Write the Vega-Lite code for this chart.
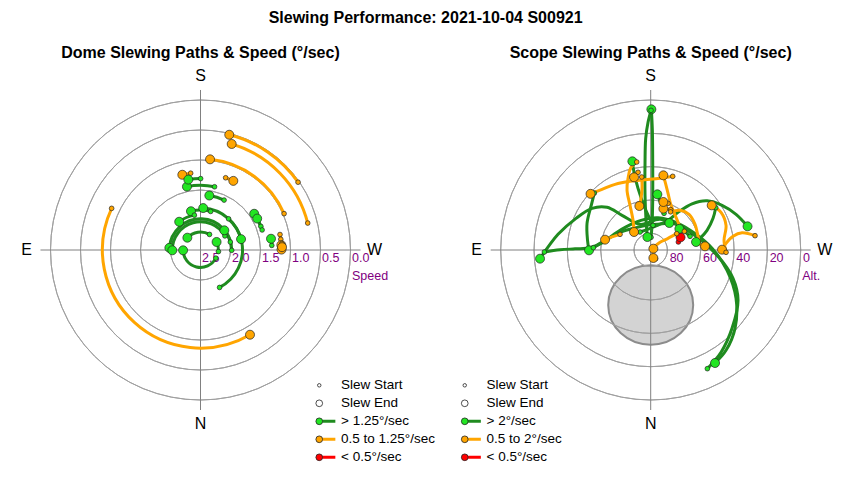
{
  "$schema": "https://vega.github.io/schema/vega-lite/v6.json",
  "background": "white",
  "padding": {"left": 5.5, "top": 10, "right": 0, "bottom": 0},
  "title": {"text": "Slewing Performance: 2021-10-04 S00921", "fontSize": 16, "fontWeight": "bold", "font": "Liberation Sans", "anchor": "middle", "offset": 19, "color": "black"},
  "bounds": "flush",
  "spacing": 60.2,
  "resolve": {
    "scale": {"x": "independent", "y": "independent", "theta": "independent", "radius": "independent", "fill": "independent", "stroke": "independent", "size": "independent"},
    "legend": {"fill": "independent", "stroke": "independent", "size": "independent"}
  },
  "datasets": {
    "domeArcs": [
      {"a0": 235.2, "a1": 194.0, "r": 1.98, "c": "0.5 to 1.25°/sec"},
      {"a0": 255.9, "a1": 196.4, "r": 1.842, "c": "0.5 to 1.25°/sec"},
      {"a0": 246.5, "a1": 186.0, "r": 1.519, "c": "0.5 to 1.25°/sec"},
      {"a0": 115.1, "a1": -30.3, "r": 1.635, "c": "0.5 to 1.25°/sec"},
      {"a0": 259.0, "a1": 269.7, "r": 1.35, "c": "0.5 to 1.25°/sec"},
      {"a0": 262.4, "a1": 266.5, "r": 1.35, "c": "0.5 to 1.25°/sec"},
      {"a0": 265.5, "a1": 268.0, "r": 1.36, "c": "0.5 to 1.25°/sec"},
      {"a0": 172.7, "a1": 166.4, "r": 1.29, "c": "0.5 to 1.25°/sec"},
      {"a0": 199.2, "a1": 205.4, "r": 1.275, "c": "0.5 to 1.25°/sec"},
      {"a0": 192.5, "a1": 167.9, "r": 1.08, "c": "> 1.25°/sec"},
      {"a0": 180.1, "a1": 170.2, "r": 1.19, "c": "> 1.25°/sec"},
      {"a0": 205.3, "a1": 189.2, "r": 0.92, "c": "> 1.25°/sec"},
      {"a0": 333.0, "a1": 183.7, "r": 0.70, "c": "> 1.25°/sec"},
      {"a0": 194.7, "a1": 166.2, "r": 0.665, "c": "> 1.25°/sec"},
      {"a0": 170.0, "a1": 143.0, "r": 0.59, "c": "> 1.25°/sec"},
      {"a0": 270.5, "a1": 94.0, "r": 0.52, "c": "> 1.25°/sec"},
      {"a0": 240.0, "a1": 89.4, "r": 0.47, "c": "> 1.25°/sec"},
      {"a0": 255.0, "a1": 230.4, "r": 0.515, "c": "> 1.25°/sec"},
      {"a0": 222.0, "a1": 255.0, "r": 0.70, "c": "> 1.25°/sec"},
      {"a0": 298.0, "a1": 449.0, "r": 0.29, "c": "> 1.25°/sec"},
      {"a0": 210.0, "a1": 133.0, "r": 0.30, "c": "> 1.25°/sec"},
      {"a0": 275.0, "a1": 243.5, "r": 0.30, "c": "> 1.25°/sec"},
      {"a0": 248.6, "a1": 236.0, "r": 1.08, "c": "> 1.25°/sec"},
      {"a0": 252.0, "a1": 241.0, "r": 1.08, "c": "> 1.25°/sec"},
      {"a0": 266.3, "a1": 260.9, "r": 1.19, "c": "> 1.25°/sec"}
    ],
    "domePts": [
      {"x": 1.626, "y": 1.130, "k": "Slew Start", "c": "0.5 to 1.25°/sec"},
      {"x": 0.479, "y": 1.921, "k": "Slew End", "c": "0.5 to 1.25°/sec"},
      {"x": 1.787, "y": 0.449, "k": "Slew Start", "c": "0.5 to 1.25°/sec"},
      {"x": 0.520, "y": 1.767, "k": "Slew End", "c": "0.5 to 1.25°/sec"},
      {"x": 1.393, "y": 0.606, "k": "Slew Start", "c": "0.5 to 1.25°/sec"},
      {"x": 0.159, "y": 1.511, "k": "Slew End", "c": "0.5 to 1.25°/sec"},
      {"x": -1.481, "y": 0.694, "k": "Slew Start", "c": "0.5 to 1.25°/sec"},
      {"x": 0.825, "y": -1.412, "k": "Slew End", "c": "0.5 to 1.25°/sec"},
      {"x": 1.325, "y": 0.258, "k": "Slew Start", "c": "0.5 to 1.25°/sec"},
      {"x": 1.350, "y": 0.007, "k": "Slew End", "c": "0.5 to 1.25°/sec"},
      {"x": 1.338, "y": 0.179, "k": "Slew Start", "c": "0.5 to 1.25°/sec"},
      {"x": 1.347, "y": 0.082, "k": "Slew End", "c": "0.5 to 1.25°/sec"},
      {"x": 1.356, "y": 0.107, "k": "Slew Start", "c": "0.5 to 1.25°/sec"},
      {"x": 1.359, "y": 0.047, "k": "Slew End", "c": "0.5 to 1.25°/sec"},
      {"x": -0.164, "y": 1.280, "k": "Slew Start", "c": "0.5 to 1.25°/sec"},
      {"x": -0.303, "y": 1.254, "k": "Slew End", "c": "0.5 to 1.25°/sec"},
      {"x": 0.419, "y": 1.204, "k": "Slew Start", "c": "0.5 to 1.25°/sec"},
      {"x": 0.547, "y": 1.152, "k": "Slew End", "c": "0.5 to 1.25°/sec"},
      {"x": 0.234, "y": 1.054, "k": "Slew Start", "c": "> 1.25°/sec"},
      {"x": -0.226, "y": 1.056, "k": "Slew End", "c": "> 1.25°/sec"},
      {"x": 0.002, "y": 1.190, "k": "Slew Start", "c": "> 1.25°/sec"},
      {"x": -0.203, "y": 1.173, "k": "Slew End", "c": "> 1.25°/sec"},
      {"x": 0.393, "y": 0.832, "k": "Slew Start", "c": "> 1.25°/sec"},
      {"x": 0.147, "y": 0.908, "k": "Slew End", "c": "> 1.25°/sec"},
      {"x": 0.318, "y": -0.624, "k": "Slew Start", "c": "> 1.25°/sec"},
      {"x": 0.045, "y": 0.699, "k": "Slew End", "c": "> 1.25°/sec"},
      {"x": 0.169, "y": 0.643, "k": "Slew Start", "c": "> 1.25°/sec"},
      {"x": -0.159, "y": 0.646, "k": "Slew End", "c": "> 1.25°/sec"},
      {"x": -0.102, "y": 0.581, "k": "Slew Start", "c": "> 1.25°/sec"},
      {"x": -0.355, "y": 0.471, "k": "Slew End", "c": "> 1.25°/sec"},
      {"x": 0.520, "y": -0.005, "k": "Slew Start", "c": "> 1.25°/sec"},
      {"x": -0.519, "y": 0.036, "k": "Slew End", "c": "> 1.25°/sec"},
      {"x": 0.407, "y": 0.235, "k": "Slew Start", "c": "> 1.25°/sec"},
      {"x": -0.470, "y": -0.005, "k": "Slew End", "c": "> 1.25°/sec"},
      {"x": 0.497, "y": 0.133, "k": "Slew Start", "c": "> 1.25°/sec"},
      {"x": 0.397, "y": 0.328, "k": "Slew End", "c": "> 1.25°/sec"},
      {"x": 0.468, "y": 0.520, "k": "Slew Start", "c": "> 1.25°/sec"},
      {"x": 0.676, "y": 0.181, "k": "Slew End", "c": "> 1.25°/sec"},
      {"x": 0.256, "y": -0.136, "k": "Slew Start", "c": "> 1.25°/sec"},
      {"x": -0.290, "y": -0.005, "k": "Slew End", "c": "> 1.25°/sec"},
      {"x": 0.150, "y": 0.260, "k": "Slew Start", "c": "> 1.25°/sec"},
      {"x": -0.219, "y": 0.205, "k": "Slew End", "c": "> 1.25°/sec"},
      {"x": 0.299, "y": -0.026, "k": "Slew Start", "c": "> 1.25°/sec"},
      {"x": 0.268, "y": 0.134, "k": "Slew End", "c": "> 1.25°/sec"},
      {"x": 1.006, "y": 0.394, "k": "Slew Start", "c": "> 1.25°/sec"},
      {"x": 0.895, "y": 0.604, "k": "Slew End", "c": "> 1.25°/sec"},
      {"x": 1.027, "y": 0.334, "k": "Slew Start", "c": "> 1.25°/sec"},
      {"x": 0.945, "y": 0.524, "k": "Slew End", "c": "> 1.25°/sec"},
      {"x": 1.188, "y": 0.077, "k": "Slew Start", "c": "> 1.25°/sec"},
      {"x": 1.175, "y": 0.188, "k": "Slew End", "c": "> 1.25°/sec"}
    ],
    "scope": [
      {"p": "R1", "o": 1, "x": 16.6, "y": 4.8, "c": "< 0.5°/sec", "k": "Slew Start"},
      {"p": "R1", "o": 2, "x": 17.9, "y": 7.6, "c": "< 0.5°/sec", "k": "Slew End"},
      {"p": "S1", "o": 1, "x": -63.8, "y": -1.2, "c": "> 2°/sec", "k": "Slew Start"},
      {"p": "S1", "o": 2, "x": -54.4, "y": 0.1, "c": "> 2°/sec"},
      {"p": "S1", "o": 3, "x": -45.4, "y": 0.7, "c": "> 2°/sec"},
      {"p": "S1", "o": 4, "x": -36.4, "y": 1.3, "c": "> 2°/sec"},
      {"p": "S1", "o": 5, "x": -28.6, "y": 4.6, "c": "> 2°/sec"},
      {"p": "S1", "o": 6, "x": -22.0, "y": 9.4, "c": "> 2°/sec"},
      {"p": "S1", "o": 7, "x": -14.8, "y": 13.9, "c": "> 2°/sec"},
      {"p": "S1", "o": 8, "x": -5.8, "y": 17.8, "c": "> 2°/sec"},
      {"p": "S1", "o": 9, "x": 4.4, "y": 19.3, "c": "> 2°/sec"},
      {"p": "S1", "o": 10, "x": 16.4, "y": 16.0, "c": "> 2°/sec"},
      {"p": "S1", "o": 11, "x": 27.2, "y": 9.4, "c": "> 2°/sec"},
      {"p": "S1", "o": 12, "x": 36.8, "y": 1.0, "c": "> 2°/sec"},
      {"p": "S1", "o": 13, "x": 45.8, "y": -12.2, "c": "> 2°/sec"},
      {"p": "S1", "o": 14, "x": 51.2, "y": -29.0, "c": "> 2°/sec"},
      {"p": "S1", "o": 15, "x": 50.6, "y": -47.0, "c": "> 2°/sec"},
      {"p": "S1", "o": 16, "x": 45.2, "y": -60.2, "c": "> 2°/sec"},
      {"p": "S1", "o": 17, "x": 38.6, "y": -67.8, "c": "> 2°/sec", "k": "Slew End"},
      {"p": "S2", "o": 1, "x": 34.0, "y": -71.2, "c": "> 2°/sec", "k": "Slew Start"},
      {"p": "S2", "o": 2, "x": 42.2, "y": -61.4, "c": "> 2°/sec"},
      {"p": "S2", "o": 3, "x": 48.8, "y": -47.0, "c": "> 2°/sec"},
      {"p": "S2", "o": 4, "x": 52.4, "y": -30.2, "c": "> 2°/sec"},
      {"p": "S2", "o": 5, "x": 49.4, "y": -17.0, "c": "> 2°/sec"},
      {"p": "S2", "o": 6, "x": 40.4, "y": -3.8, "c": "> 2°/sec"},
      {"p": "S2", "o": 7, "x": 29.6, "y": 6.4, "c": "> 2°/sec"},
      {"p": "S2", "o": 8, "x": 17.6, "y": 14.2, "c": "> 2°/sec"},
      {"p": "S2", "o": 9, "x": 5.6, "y": 18.4, "c": "> 2°/sec"},
      {"p": "S2", "o": 10, "x": -6.4, "y": 15.4, "c": "> 2°/sec"},
      {"p": "S2", "o": 11, "x": -17.2, "y": 20.8, "c": "> 2°/sec"},
      {"p": "S2", "o": 12, "x": -26.2, "y": 25.6, "c": "> 2°/sec"},
      {"p": "S2", "o": 13, "x": -35.2, "y": 25.0, "c": "> 2°/sec"},
      {"p": "S2", "o": 14, "x": -44.8, "y": 19.0, "c": "> 2°/sec"},
      {"p": "S2", "o": 15, "x": -55.6, "y": 9.4, "c": "> 2°/sec"},
      {"p": "S2", "o": 16, "x": -66.4, "y": -5.2, "c": "> 2°/sec", "k": "Slew End"},
      {"p": "S3", "o": 1, "x": 0.2, "y": 7.6, "c": "> 2°/sec", "k": "Slew Start"},
      {"p": "S3", "o": 2, "x": 0.8, "y": 14.8, "c": "> 2°/sec"},
      {"p": "S3", "o": 3, "x": 1.2, "y": 29.8, "c": "> 2°/sec"},
      {"p": "S3", "o": 4, "x": 1.2, "y": 53.8, "c": "> 2°/sec"},
      {"p": "S3", "o": 5, "x": 1.0, "y": 71.8, "c": "> 2°/sec"},
      {"p": "S3", "o": 6, "x": 0.4, "y": 84.4, "c": "> 2°/sec", "k": "Slew End"},
      {"p": "S4", "o": 1, "x": 0.2, "y": 83.8, "c": "> 2°/sec", "k": "Slew Start"},
      {"p": "S4", "o": 2, "x": -1.6, "y": 76.6, "c": "> 2°/sec"},
      {"p": "S4", "o": 3, "x": -3.0, "y": 67.0, "c": "> 2°/sec"},
      {"p": "S4", "o": 4, "x": -3.4, "y": 52.6, "c": "> 2°/sec"},
      {"p": "S4", "o": 5, "x": -3.4, "y": 32.8, "c": "> 2°/sec"},
      {"p": "S4", "o": 6, "x": -2.8, "y": 17.8, "c": "> 2°/sec"},
      {"p": "S4", "o": 7, "x": -2.0, "y": 7.8, "c": "> 2°/sec", "k": "Slew End"},
      {"p": "S5", "o": 1, "x": -33.8, "y": 34.2, "c": "> 2°/sec", "k": "Slew Start"},
      {"p": "S5", "o": 2, "x": -35.4, "y": 27.8, "c": "> 2°/sec"},
      {"p": "S5", "o": 3, "x": -38.2, "y": 16.0, "c": "> 2°/sec"},
      {"p": "S5", "o": 4, "x": -37.9, "y": 5.8, "c": "> 2°/sec"},
      {"p": "S5", "o": 5, "x": -37.0, "y": -0.2, "c": "> 2°/sec", "k": "Slew End"},
      {"p": "S6", "o": 1, "x": 1.4, "y": 14.8, "c": "> 2°/sec", "k": "Slew Start"},
      {"p": "S6", "o": 2, "x": -3.4, "y": 25.0, "c": "> 2°/sec"},
      {"p": "S6", "o": 3, "x": -7.6, "y": 37.0, "c": "> 2°/sec"},
      {"p": "S6", "o": 4, "x": -10.0, "y": 46.6, "c": "> 2°/sec"},
      {"p": "S6", "o": 5, "x": -11.0, "y": 53.2, "c": "> 2°/sec", "k": "Slew End"},
      {"p": "S7", "o": 1, "x": 39.0, "y": 25.4, "c": "> 2°/sec", "k": "Slew Start"},
      {"p": "S7", "o": 2, "x": 37.4, "y": 19.0, "c": "> 2°/sec"},
      {"p": "S7", "o": 3, "x": 33.8, "y": 11.8, "c": "> 2°/sec"},
      {"p": "S7", "o": 4, "x": 29.6, "y": 7.0, "c": "> 2°/sec"},
      {"p": "S7", "o": 5, "x": 27.2, "y": 4.8, "c": "> 2°/sec", "k": "Slew End"},
      {"p": "S8", "o": 1, "x": -6.4, "y": 10.8, "c": "> 2°/sec", "k": "Slew Start"},
      {"p": "S8", "o": 2, "x": 2.6, "y": 14.2, "c": "> 2°/sec"},
      {"p": "S8", "o": 3, "x": 10.4, "y": 17.8, "c": "> 2°/sec"},
      {"p": "S8", "o": 4, "x": 16.4, "y": 22.6, "c": "> 2°/sec"},
      {"p": "S8", "o": 5, "x": 24.8, "y": 27.7, "c": "> 2°/sec"},
      {"p": "S8", "o": 6, "x": 33.8, "y": 29.5, "c": "> 2°/sec"},
      {"p": "S8", "o": 7, "x": 42.8, "y": 26.8, "c": "> 2°/sec"},
      {"p": "S8", "o": 8, "x": 51.2, "y": 21.4, "c": "> 2°/sec"},
      {"p": "S8", "o": 9, "x": 58.1, "y": 14.2, "c": "> 2°/sec", "k": "Slew End"},
      {"p": "S9", "o": 1, "x": 23.6, "y": 8.2, "c": "> 2°/sec", "k": "Slew Start"},
      {"p": "S9", "o": 2, "x": 20.0, "y": 11.2, "c": "> 2°/sec"},
      {"p": "S9", "o": 3, "x": 17.2, "y": 12.7, "c": "> 2°/sec", "k": "Slew End"},
      {"p": "S10", "o": 1, "x": -34.4, "y": 1.4, "c": "> 2°/sec", "k": "Slew Start"},
      {"p": "S10", "o": 2, "x": -27.4, "y": 5.8, "c": "> 2°/sec"},
      {"p": "S10", "o": 3, "x": -18.4, "y": 10.6, "c": "> 2°/sec"},
      {"p": "S10", "o": 4, "x": -9.4, "y": 13.3, "c": "> 2°/sec"},
      {"p": "S10", "o": 5, "x": -0.4, "y": 15.1, "c": "> 2°/sec"},
      {"p": "S10", "o": 6, "x": 6.8, "y": 15.7, "c": "> 2°/sec"},
      {"p": "S10", "o": 7, "x": 11.2, "y": 16.2, "c": "> 2°/sec", "k": "Slew End"},
      {"p": "S11", "o": 1, "x": 8.0, "y": 22.0, "c": "> 2°/sec", "k": "Slew Start"},
      {"p": "S11", "o": 2, "x": 6.2, "y": 27.4, "c": "> 2°/sec"},
      {"p": "S11", "o": 3, "x": 4.0, "y": 33.4, "c": "> 2°/sec", "k": "Slew End"},
      {"p": "O1", "o": 1, "x": 13.2, "y": 44.2, "c": "0.5 to 2°/sec", "k": "Slew Start"},
      {"p": "O1", "o": 2, "x": 5.6, "y": 43.0, "c": "0.5 to 2°/sec"},
      {"p": "O1", "o": 3, "x": -3.4, "y": 42.1, "c": "0.5 to 2°/sec"},
      {"p": "O1", "o": 4, "x": -12.4, "y": 41.2, "c": "0.5 to 2°/sec"},
      {"p": "O1", "o": 5, "x": -21.4, "y": 39.4, "c": "0.5 to 2°/sec"},
      {"p": "O1", "o": 6, "x": -29.2, "y": 36.4, "c": "0.5 to 2°/sec"},
      {"p": "O1", "o": 7, "x": -36.1, "y": 33.7, "c": "0.5 to 2°/sec", "k": "Slew End"},
      {"p": "O2", "o": 1, "x": -8.4, "y": 52.8, "c": "0.5 to 2°/sec", "k": "Slew Start"},
      {"p": "O2", "o": 2, "x": -11.8, "y": 49.6, "c": "0.5 to 2°/sec"},
      {"p": "O2", "o": 3, "x": -13.6, "y": 43.0, "c": "0.5 to 2°/sec"},
      {"p": "O2", "o": 4, "x": -14.2, "y": 35.8, "c": "0.5 to 2°/sec"},
      {"p": "O2", "o": 5, "x": -12.4, "y": 26.8, "c": "0.5 to 2°/sec"},
      {"p": "O2", "o": 6, "x": -10.6, "y": 17.8, "c": "0.5 to 2°/sec"},
      {"p": "O2", "o": 7, "x": -10.0, "y": 10.8, "c": "0.5 to 2°/sec", "k": "Slew End"},
      {"p": "O3", "o": 1, "x": -5.4, "y": 43.8, "c": "0.5 to 2°/sec", "k": "Slew Start"},
      {"p": "O3", "o": 2, "x": -5.2, "y": 37.0, "c": "0.5 to 2°/sec"},
      {"p": "O3", "o": 3, "x": -5.8, "y": 31.0, "c": "0.5 to 2°/sec"},
      {"p": "O3", "o": 4, "x": -6.8, "y": 26.4, "c": "0.5 to 2°/sec", "k": "Slew End"},
      {"p": "O4", "o": 1, "x": 20.2, "y": 11.2, "c": "0.5 to 2°/sec", "k": "Slew Start"},
      {"p": "O4", "o": 2, "x": 17.6, "y": 14.2, "c": "0.5 to 2°/sec"},
      {"p": "O4", "o": 3, "x": 15.2, "y": 19.6, "c": "0.5 to 2°/sec"},
      {"p": "O4", "o": 4, "x": 12.2, "y": 26.8, "c": "0.5 to 2°/sec"},
      {"p": "O4", "o": 5, "x": 10.4, "y": 34.0, "c": "0.5 to 2°/sec"},
      {"p": "O4", "o": 6, "x": 8.9, "y": 40.0, "c": "0.5 to 2°/sec"},
      {"p": "O4", "o": 7, "x": 7.6, "y": 44.8, "c": "0.5 to 2°/sec", "k": "Slew End"},
      {"p": "O5", "o": 1, "x": 12.0, "y": 24.2, "c": "0.5 to 2°/sec", "k": "Slew Start"},
      {"p": "O5", "o": 2, "x": 9.8, "y": 24.7, "c": "0.5 to 2°/sec"},
      {"p": "O5", "o": 3, "x": 7.6, "y": 24.8, "c": "0.5 to 2°/sec", "k": "Slew End"},
      {"p": "O6", "o": 1, "x": 10.4, "y": 28.0, "c": "0.5 to 2°/sec", "k": "Slew Start"},
      {"p": "O6", "o": 2, "x": 8.6, "y": 28.6, "c": "0.5 to 2°/sec"},
      {"p": "O6", "o": 3, "x": 7.6, "y": 28.8, "c": "0.5 to 2°/sec", "k": "Slew End"},
      {"p": "O7", "o": 1, "x": 11.9, "y": 22.9, "c": "0.5 to 2°/sec", "k": "Slew Start"},
      {"p": "O7", "o": 2, "x": 17.6, "y": 23.8, "c": "0.5 to 2°/sec"},
      {"p": "O7", "o": 3, "x": 23.0, "y": 21.4, "c": "0.5 to 2°/sec"},
      {"p": "O7", "o": 4, "x": 26.6, "y": 15.4, "c": "0.5 to 2°/sec"},
      {"p": "O7", "o": 5, "x": 28.4, "y": 8.2, "c": "0.5 to 2°/sec"},
      {"p": "O7", "o": 6, "x": 29.6, "y": 3.4, "c": "0.5 to 2°/sec"},
      {"p": "O7", "o": 7, "x": 32.6, "y": 2.2, "c": "0.5 to 2°/sec", "k": "Slew End"},
      {"p": "O8", "o": 1, "x": 62.6, "y": 8.6, "c": "0.5 to 2°/sec", "k": "Slew Start"},
      {"p": "O8", "o": 2, "x": 54.8, "y": 10.3, "c": "0.5 to 2°/sec"},
      {"p": "O8", "o": 3, "x": 49.4, "y": 8.2, "c": "0.5 to 2°/sec"},
      {"p": "O8", "o": 4, "x": 45.2, "y": 4.0, "c": "0.5 to 2°/sec"},
      {"p": "O8", "o": 5, "x": 42.8, "y": 0.2, "c": "0.5 to 2°/sec", "k": "Slew End"},
      {"p": "O9", "o": 1, "x": 45.2, "y": -1.4, "c": "0.5 to 2°/sec", "k": "Slew Start"},
      {"p": "O9", "o": 2, "x": 44.0, "y": 5.8, "c": "0.5 to 2°/sec"},
      {"p": "O9", "o": 3, "x": 45.2, "y": 14.8, "c": "0.5 to 2°/sec"},
      {"p": "O9", "o": 4, "x": 42.2, "y": 22.6, "c": "0.5 to 2°/sec"},
      {"p": "O9", "o": 5, "x": 36.6, "y": 26.8, "c": "0.5 to 2°/sec", "k": "Slew End"},
      {"p": "O10", "o": 1, "x": 15.6, "y": 9.8, "c": "0.5 to 2°/sec", "k": "Slew Start"},
      {"p": "O10", "o": 2, "x": 10.4, "y": 7.0, "c": "0.5 to 2°/sec"},
      {"p": "O10", "o": 3, "x": 5.6, "y": 4.6, "c": "0.5 to 2°/sec"},
      {"p": "O10", "o": 4, "x": 2.6, "y": 2.2, "c": "0.5 to 2°/sec"},
      {"p": "O10", "o": 5, "x": 1.6, "y": 0.8, "c": "0.5 to 2°/sec", "k": "Slew End"},
      {"p": "O11", "o": 1, "x": 2.9, "y": -5.3, "c": "0.5 to 2°/sec", "k": "Slew Start"},
      {"p": "O11", "o": 2, "x": 1.6, "y": -4.8, "c": "0.5 to 2°/sec", "k": "Slew End"},
      {"p": "O12", "o": 1, "x": -18.4, "y": 9.4, "c": "0.5 to 2°/sec", "k": "Slew Start"},
      {"p": "O12", "o": 2, "x": -23.2, "y": 7.9, "c": "0.5 to 2°/sec"},
      {"p": "O12", "o": 3, "x": -27.4, "y": 6.2, "c": "0.5 to 2°/sec", "k": "Slew End"},
      {"p": "O13", "o": 1, "x": -7.6, "y": 46.6, "c": "0.5 to 2°/sec", "k": "Slew Start"},
      {"p": "O13", "o": 2, "x": -10.0, "y": 43.6, "c": "0.5 to 2°/sec", "k": "Slew End"}
    ]
  },
  "hconcat": [
    {
      "width": 390,
      "height": 390,
      "title": {"text": "Dome Slewing Paths & Speed (°/sec)", "fontSize": 16, "fontWeight": "bold", "offset": -6, "color": "black"},
      "layer": [
        {
          "data": {"values": [{"r": 0.5}, {"r": 1.0}, {"r": 1.5}, {"r": 2.0}, {"r": 2.5}]},
          "mark": {"type": "arc", "filled": false, "stroke": "#a0a0a0", "strokeWidth": 1},
          "encoding": {
            "theta": {"datum": 0, "type": "quantitative", "stack": null, "scale": {"type": "linear", "domain": [0, 360], "range": [-3.14159265, 3.14159265]}},
            "theta2": {"datum": 360},
            "radius": {"field": "r", "type": "quantitative", "scale": {"type": "linear", "domain": [0, 2.5], "range": [0, 150]}},
            "radius2": {"field": "r"}
          }
        },
        {
          "data": {"values": [{}]},
          "mark": {"type": "rule", "stroke": "#808080", "strokeWidth": 1},
          "encoding": {
            "x": {"datum": -2.667, "type": "quantitative", "scale": {"domain": [-3.25, 3.25]}, "axis": null},
            "x2": {"datum": 2.667},
            "y": {"datum": 0, "type": "quantitative", "scale": {"domain": [-3.25, 3.25]}, "axis": null}
          }
        },
        {
          "data": {"values": [{}]},
          "mark": {"type": "rule", "stroke": "#808080", "strokeWidth": 1},
          "encoding": {
            "y": {"datum": -2.667, "type": "quantitative", "scale": {"domain": [-3.25, 3.25]}, "axis": null},
            "y2": {"datum": 2.667},
            "x": {"datum": 0, "type": "quantitative", "scale": {"domain": [-3.25, 3.25]}, "axis": null}
          }
        },
        {
          "data": {"values": [{"lab": "2.5", "r": 0}, {"lab": "2.0", "r": 0.5}, {"lab": "1.5", "r": 1.0}, {"lab": "1.0", "r": 1.5}, {"lab": "0.5", "r": 2.0}, {"lab": "0.0", "r": 2.5}]},
          "mark": {"type": "text", "align": "left", "baseline": "alphabetic", "dx": 1.5, "dy": 12.3, "fontSize": 12.5, "color": "#800080"},
          "encoding": {
            "x": {"field": "r", "type": "quantitative", "scale": {"domain": [-3.25, 3.25]}, "axis": null},
            "y": {"datum": 0, "type": "quantitative", "scale": {"domain": [-3.25, 3.25]}, "axis": null},
            "text": {"field": "lab"}
          }
        },
        {
          "data": {"values": [{"lab": "Speed", "r": 2.5}]},
          "mark": {"type": "text", "align": "left", "baseline": "alphabetic", "dx": 1.5, "dy": 29.6, "fontSize": 12.5, "color": "#800080"},
          "encoding": {
            "x": {"field": "r", "type": "quantitative", "scale": {"domain": [-3.25, 3.25]}, "axis": null},
            "y": {"datum": 0, "type": "quantitative", "scale": {"domain": [-3.25, 3.25]}, "axis": null},
            "text": {"field": "lab"}
          }
        },
        {
          "data": {"values": [{"t": "S", "az": 180}, {"t": "W", "az": 270}, {"t": "N", "az": 0}, {"t": "E", "az": 90}]},
          "mark": {"type": "text", "fontSize": 16, "align": "center", "baseline": "middle", "color": "black"},
          "encoding": {
            "theta": {"field": "az", "type": "quantitative", "stack": null, "scale": {"type": "linear", "domain": [0, 360], "range": [-3.14159265, 3.14159265]}},
            "radius": {"datum": 2.9, "type": "quantitative", "scale": {"type": "linear", "domain": [0, 2.5], "range": [0, 150]}},
            "text": {"field": "t"}
          }
        },
        {
          "data": {"name": "domeArcs"},
          "mark": {"type": "arc", "filled": false, "strokeWidth": 3, "strokeJoin": "round"},
          "encoding": {
            "theta": {"field": "a0", "type": "quantitative", "stack": null, "scale": {"type": "linear", "domain": [0, 360], "range": [-3.14159265, 3.14159265]}},
            "theta2": {"field": "a1"},
            "radius": {"field": "r", "type": "quantitative", "scale": {"type": "linear", "domain": [0, 2.5], "range": [0, 150]}},
            "radius2": {"field": "r"},
            "stroke": {
              "field": "c", "type": "nominal",
              "scale": {"domain": ["> 1.25°/sec", "0.5 to 1.25°/sec", "< 0.5°/sec"], "range": ["#1f8b1f", "#ffa500", "#ff0000"]},
              "legend": {"orient": "none", "legendX": 307, "legendY": 359.3, "title": null, "symbolType": "M0.9,0H4.8", "symbolSize": 45, "symbolStrokeWidth": 3, "symbolFillColor": "transparent", "labelOpacity": 0, "labelFontSize": 13.5, "labelOffset": 15, "rowPadding": 4, "clipHeight": 14}
            }
          }
        },
        {
          "data": {"name": "domePts"},
          "mark": {"type": "point", "shape": "circle", "filled": true, "opacity": 1, "stroke": "#222222", "strokeWidth": 0.7},
          "encoding": {
            "x": {"field": "x", "type": "quantitative", "scale": {"domain": [-3.25, 3.25]}, "axis": null},
            "y": {"field": "y", "type": "quantitative", "scale": {"domain": [-3.25, 3.25]}, "axis": null},
            "fill": {
              "field": "c", "type": "nominal",
              "scale": {"domain": ["Slew Start", "Slew End", "> 1.25°/sec", "0.5 to 1.25°/sec", "< 0.5°/sec"], "range": ["white", "white", "#22e622", "#ffa500", "#ff0000"]},
              "legend": {"orient": "none", "legendX": 307, "legendY": 323.3, "title": null, "symbolType": "circle", "symbolSize": 45, "symbolStrokeColor": "#222222", "symbolStrokeWidth": 0.8, "symbolOpacity": 1, "labelFontSize": 13.5, "labelColor": "black", "labelOffset": 15, "rowPadding": 4, "clipHeight": 14, "labelLimit": 300,
                "encode": {"symbols": {"update": {"size": {"signal": "datum.value === 'Slew Start' ? 12 : 45"}}}}}
            },
            "size": {"field": "k", "type": "ordinal", "scale": {"domain": ["Slew Start", "Slew End"], "range": [22, 81]}, "legend": null}
          }
        }
      ]
    },
    {
      "width": 390,
      "height": 390,
      "title": {"text": "Scope Slewing Paths & Speed (°/sec)", "fontSize": 16, "fontWeight": "bold", "offset": -6, "color": "black"},
      "layer": [
        {
          "data": {"values": [{"x": 0, "y": -33}]},
          "mark": {"type": "point", "shape": "M-1,0A1,0.933,0,1,1,1,0A1,0.933,0,1,1,-1,0Z", "filled": true, "fill": "#d3d3d3", "stroke": "#8c8c8c", "strokeWidth": 2, "opacity": 1, "size": 7225},
          "encoding": {
            "x": {"field": "x", "type": "quantitative", "scale": {"domain": [-117, 117]}, "axis": null},
            "y": {"field": "y", "type": "quantitative", "scale": {"domain": [-117, 117]}, "axis": null}
          }
        },
        {
          "data": {"values": [{"zd": 10}, {"zd": 30}, {"zd": 50}, {"zd": 70}, {"zd": 90}]},
          "mark": {"type": "arc", "filled": false, "stroke": "#a0a0a0", "strokeWidth": 1},
          "encoding": {
            "theta": {"datum": 0, "type": "quantitative", "stack": null, "scale": {"type": "linear", "domain": [0, 360], "range": [-3.14159265, 3.14159265]}},
            "theta2": {"datum": 360},
            "radius": {"field": "zd", "type": "quantitative", "scale": {"type": "linear", "domain": [0, 90], "range": [0, 150]}},
            "radius2": {"field": "zd"}
          }
        },
        {
          "data": {"values": [{}]},
          "mark": {"type": "rule", "stroke": "#808080", "strokeWidth": 1},
          "encoding": {
            "x": {"datum": -96, "type": "quantitative", "scale": {"domain": [-117, 117]}, "axis": null},
            "x2": {"datum": 96},
            "y": {"datum": 0, "type": "quantitative", "scale": {"domain": [-117, 117]}, "axis": null}
          }
        },
        {
          "data": {"values": [{}]},
          "mark": {"type": "rule", "stroke": "#808080", "strokeWidth": 1},
          "encoding": {
            "y": {"datum": -96, "type": "quantitative", "scale": {"domain": [-117, 117]}, "axis": null},
            "y2": {"datum": 96},
            "x": {"datum": 0, "type": "quantitative", "scale": {"domain": [-117, 117]}, "axis": null}
          }
        },
        {
          "data": {"values": [{"lab": "80", "zd": 10}, {"lab": "60", "zd": 30}, {"lab": "40", "zd": 50}, {"lab": "20", "zd": 70}, {"lab": "0", "zd": 90}]},
          "mark": {"type": "text", "align": "left", "baseline": "alphabetic", "dx": 2.3, "dy": 12.3, "fontSize": 12.5, "color": "#800080"},
          "encoding": {
            "x": {"field": "zd", "type": "quantitative", "scale": {"domain": [-117, 117]}, "axis": null},
            "y": {"datum": 0, "type": "quantitative", "scale": {"domain": [-117, 117]}, "axis": null},
            "text": {"field": "lab"}
          }
        },
        {
          "data": {"values": [{"lab": "Alt.", "zd": 90}]},
          "mark": {"type": "text", "align": "left", "baseline": "alphabetic", "dx": 1.5, "dy": 29.6, "fontSize": 12.5, "color": "#800080"},
          "encoding": {
            "x": {"field": "zd", "type": "quantitative", "scale": {"domain": [-117, 117]}, "axis": null},
            "y": {"datum": 0, "type": "quantitative", "scale": {"domain": [-117, 117]}, "axis": null},
            "text": {"field": "lab"}
          }
        },
        {
          "data": {"values": [{"t": "S", "az": 180}, {"t": "W", "az": 270}, {"t": "N", "az": 0}, {"t": "E", "az": 90}]},
          "mark": {"type": "text", "fontSize": 16, "align": "center", "baseline": "middle", "color": "black"},
          "encoding": {
            "theta": {"field": "az", "type": "quantitative", "stack": null, "scale": {"type": "linear", "domain": [0, 360], "range": [-3.14159265, 3.14159265]}},
            "radius": {"datum": 104.5, "type": "quantitative", "scale": {"type": "linear", "domain": [0, 90], "range": [0, 150]}},
            "text": {"field": "t"}
          }
        },
        {
          "data": {"name": "scope"},
          "mark": {"type": "line", "strokeWidth": 3, "interpolate": "catmull-rom"},
          "encoding": {
            "x": {"field": "x", "type": "quantitative", "scale": {"domain": [-117, 117]}, "axis": null},
            "y": {"field": "y", "type": "quantitative", "scale": {"domain": [-117, 117]}, "axis": null},
            "detail": {"field": "p"},
            "order": {"field": "o", "type": "quantitative"},
            "stroke": {
              "field": "c", "type": "nominal",
              "scale": {"domain": ["> 2°/sec", "0.5 to 2°/sec", "< 0.5°/sec"], "range": ["#1f8b1f", "#ffa500", "#ff0000"]},
              "legend": {"orient": "none", "legendX": 2.3, "legendY": 359.3, "title": null, "symbolType": "M0.9,0H4.8", "symbolSize": 45, "symbolStrokeWidth": 3, "symbolFillColor": "transparent", "labelOpacity": 0, "labelFontSize": 13.5, "labelOffset": 15, "rowPadding": 4, "clipHeight": 14}
            }
          }
        },
        {
          "data": {"name": "scope"},
          "transform": [{"filter": {"field": "k", "oneOf": ["Slew Start", "Slew End"]}}],
          "mark": {"type": "point", "shape": "circle", "filled": true, "opacity": 1, "stroke": "#222222", "strokeWidth": 0.7},
          "encoding": {
            "x": {"field": "x", "type": "quantitative", "scale": {"domain": [-117, 117]}, "axis": null},
            "y": {"field": "y", "type": "quantitative", "scale": {"domain": [-117, 117]}, "axis": null},
            "fill": {
              "field": "c", "type": "nominal",
              "scale": {"domain": ["Slew Start", "Slew End", "> 2°/sec", "0.5 to 2°/sec", "< 0.5°/sec"], "range": ["white", "white", "#22e622", "#ffa500", "#ff0000"]},
              "legend": {"orient": "none", "legendX": 2.3, "legendY": 323.3, "title": null, "symbolType": "circle", "symbolSize": 45, "symbolStrokeColor": "#222222", "symbolStrokeWidth": 0.8, "symbolOpacity": 1, "labelFontSize": 13.5, "labelColor": "black", "labelOffset": 15, "rowPadding": 4, "clipHeight": 14, "labelLimit": 300,
                "encode": {"symbols": {"update": {"size": {"signal": "datum.value === 'Slew Start' ? 12 : 45"}}}}}
            },
            "size": {"field": "k", "type": "ordinal", "scale": {"domain": ["Slew Start", "Slew End"], "range": [22, 81]}, "legend": null}
          }
        }
      ]
    }
  ],
  "config": {
    "view": {"stroke": null},
    "font": "Liberation Sans",
    "text": {"font": "Liberation Sans"},
    "title": {"font": "Liberation Sans", "color": "black"},
    "legend": {"labelFont": "Liberation Sans"}
  }
}
